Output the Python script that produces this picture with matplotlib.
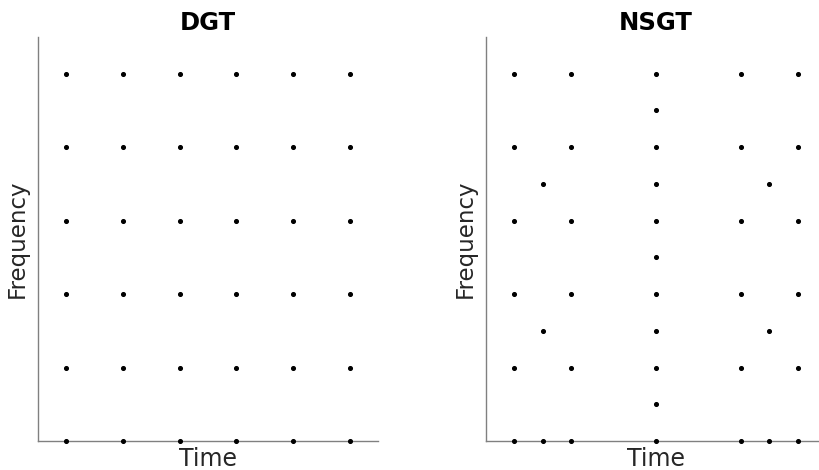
import numpy as np
import matplotlib
matplotlib.use("Agg")
import matplotlib.pyplot as plt

# DGT: regular grid of time-frequency atoms
dgt_times = [1, 2, 3, 4, 5, 6]
dgt_freqs = [0, 1, 2, 3, 4, 5]

# NSGT: each time column has its own frequency positions
nsgt_times = [1, 1.5, 2, 3.5, 5, 5.5, 6]
nsgt_freqs = [
    [0, 1, 2, 3, 4, 5],
    [0, 1.5, 3.5],
    [0, 1, 2, 3, 4, 5],
    [0, 0.5, 1, 1.5, 2, 2.5, 3, 3.5, 4, 4.5, 5],
    [0, 1, 2, 3, 4, 5],
    [0, 1.5, 3.5],
    [0, 1, 2, 3, 4, 5],
]

fig = plt.figure(figsize=(8.19, 4.70), dpi=100)
ax1 = fig.add_axes([38 / 819, 29 / 470, 340 / 819, 404 / 470])
ax2 = fig.add_axes([486 / 819, 29 / 470, 340 / 819, 404 / 470])


def style(ax, title):
    ax.set_xlim(0.5, 6.5)
    ax.set_ylim(0, 5.5)
    ax.set_xticks([])
    ax.set_yticks([])
    for s in ["top", "right"]:
        ax.spines[s].set_visible(False)
    for s in ["left", "bottom"]:
        ax.spines[s].set_color("#808080")
        ax.spines[s].set_linewidth(1.0)
    ax.set_title(title, fontsize=17.5, fontweight="bold", pad=5)
    ax.set_xlabel("Time", fontsize=17, color="#262626", labelpad=4)
    ax.set_ylabel("Frequency", fontsize=16.5, color="#262626", labelpad=7)


# DGT grid
gx, gy = np.meshgrid(dgt_times, dgt_freqs)
ax1.scatter(gx.ravel(), gy.ravel(), s=7, color="black", clip_on=False, zorder=3)
style(ax1, "DGT")

# NSGT
for t, fs in zip(nsgt_times, nsgt_freqs):
    ax2.scatter([t] * len(fs), fs, s=7, color="black", clip_on=False, zorder=3)
style(ax2, "NSGT")

fig.savefig("out.png", dpi=100)
